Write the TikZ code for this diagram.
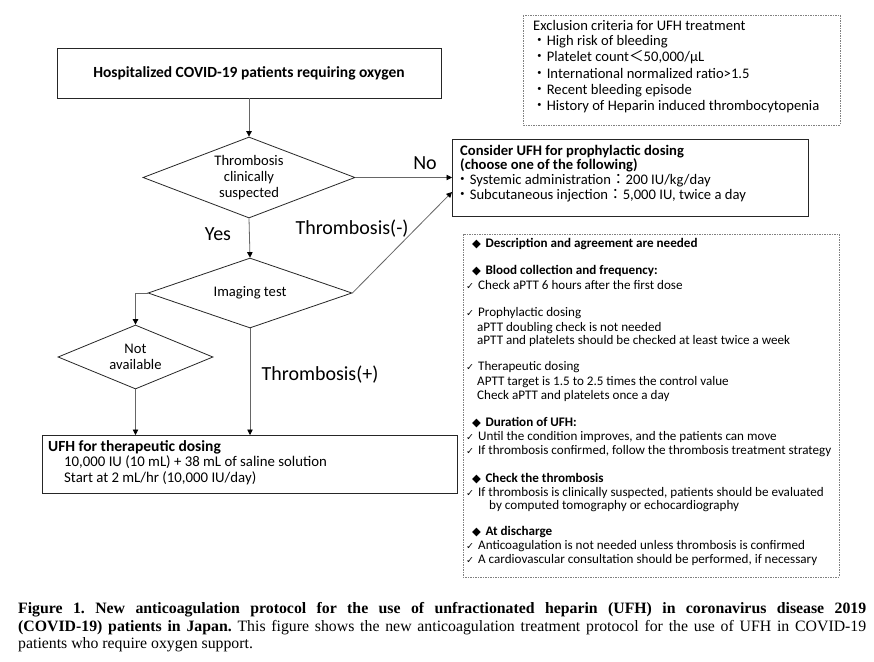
\documentclass[tikz,border=0pt]{standalone}
\usepackage{fontspec}
\setmainfont{Carlito}
\newfontfamily\capfont{Liberation Serif}
\newfontfamily\symfont{DejaVu Sans}
\newfontfamily\cjkfont{Noto Sans CJK JP}
\usetikzlibrary{shapes.geometric,arrows.meta}
\newcommand{\jdot}{{\cjkfont ・}}
\newcommand{\chk}{{\symfont\fontsize{9.5}{10}\selectfont ✓}}
\newcommand{\dia}{{\symfont\fontsize{11.5}{10}\selectfont ◆}}
\frenchspacing
\begin{document}
\begin{tikzpicture}[x=1pt,y=-1pt,
  box/.style={draw=black!85, line width=0.8pt},
  dbox/.style={draw=gray, line width=0.7pt, dash pattern=on 2pt off 1.2pt on 0.6pt off 1.2pt},
  dec/.style={draw=black!85, line width=0.8pt, shape=diamond, inner sep=0pt, align=center, font=\fontsize{14.6}{16}\selectfont},
  conn/.style={draw=gray!80!black, line width=0.8pt, -{Triangle[length=5.5pt,width=5.5pt,color=black]}},
  ln/.style={anchor=mid west, inner sep=0pt, text height=9pt, text depth=2.5pt},
  t12/.style={ln, font=\fontsize{14.6}{16}\selectfont},
  tpro/.style={ln, font=\fontsize{14.6}{16}\selectfont},
  tbold/.style={ln, font=\bfseries\fontsize{14.6}{16}\selectfont},
  t11/.style={ln, font=\fontsize{13.1}{14}\selectfont, text height=8.5pt, text depth=2.5pt},
  lab/.style={inner sep=0pt, font=\fontsize{20}{22}\selectfont},
  captext/.style={anchor=mid west, inner sep=0pt, font=\capfont\fontsize{15.8}{17}\selectfont}]
\useasboundingbox (0,0) rectangle (874,661);
\fill[white] (0,0) rectangle (874,661);

% top box
\node[box, minimum width=384pt, minimum height=50pt, font=\bfseries\fontsize{15.5}{17}\selectfont] (start) at (249,73) {Hospitalized COVID-19 patients requiring oxygen};

% diamonds
\node[dec, aspect=2.6, minimum width=212pt, minimum height=81pt] (d1) at (249,177.5) {Thrombosis\\clinically\\suspected};
\node[dec, aspect=2.9, minimum width=204pt, minimum height=70pt] (d2) at (250,293) {Imaging test};
\node[dec, aspect=2.4, minimum width=155pt, minimum height=64pt] (d3) at (135.5,357) {Not\\available};

% prophylactic box
\draw[box] (452,139) rectangle (808,216);
\coordinate (pro) at (452,177.5);
\coordinate (prolo) at (452,192);
\node[tbold] (p1) at (460,153) {Consider UFH for prophylactic dosing};
\node[tbold] (p2) at (460,167) {(choose one of the following)};
\node[tpro] (p3) at (455,182.5) {\jdot Systemic administration{\cjkfont ：}200 IU/kg/day};
\node[tpro] (p4) at (455,197.5) {\jdot Subcutaneous injection{\cjkfont ：}5,000 IU, twice a day};

% therapeutic box
\draw[box] (42,435) rectangle (457,493);
\coordinate (thl) at (135.5,435);
\coordinate (thr) at (250,435);
\node[tbold, font=\bfseries\fontsize{15.5}{17}\selectfont] (u1) at (48,449) {UFH for therapeutic dosing};
\node[tpro, font=\fontsize{14.8}{16}\selectfont] (u2) at (64,464.5) {10,000 IU (10 mL) + 38 mL of saline solution};
\node[tpro, font=\fontsize{14.8}{16}\selectfont] (u3) at (64,480) {Start at 2 mL/hr (10,000 IU/day)};

% connectors
\draw[conn] (start.south) -- (d1.north);
\draw[conn] (d1.east) -- (pro);
\draw[conn] (d1.south) -- (d2.north);
\draw[conn] (d2.east) -- (prolo);
\draw[conn] (d2.west) -| (d3.north);
\draw[conn] (d3.south) -- (thl);
\draw[conn] (d2.south) -- (thr);

% labels
\node[lab] (no) at (425,163) {No};
\node[lab] (yes) at (218,234) {Yes};
\node[lab] (tm) at (352,229) {Thrombosis(-)};
\node[lab] (tp) at (320,375) {Thrombosis(+)};

% exclusion box
\draw[dbox] (523,15) rectangle (840,125);
\node[t12] (e1) at (533,28) {Exclusion criteria for UFH treatment};
\node[t12] (e2) at (532,43.5) {\jdot High risk of bleeding};
\node[t12] (e3) at (532,59.5) {\jdot Platelet count{\cjkfont ＜}50,000/μL};
\node[t12] (e4) at (532,76) {\jdot International normalized ratio>1.5};
\node[t12] (e5) at (532,92) {\jdot Recent bleeding episode};
\node[t12] (e6) at (532,108) {\jdot History of Heparin induced thrombocytopenia};

% description box
\draw[dbox] (463,234) rectangle (839,577);
\node[t11] (s1) at (472,245) {\dia\hspace{4.5pt}\textbf{Description and agreement are needed}};
\node[t11] (s2) at (472,272) {\dia\hspace{4.5pt}\textbf{Blood collection and frequency:}};
\node[t11] (s3) at (466,287) {\chk\hspace{4pt}Check aPTT 6 hours after the first dose};
\node[t11] (s4) at (466,314) {\chk\hspace{4pt}Prophylactic dosing};
\node[t11] (s5) at (477,329) {aPTT doubling check is not needed};
\node[t11] (s6) at (477,342) {aPTT and platelets should be checked at least twice a week};
\node[t11] (s7) at (466,368) {\chk\hspace{4pt}Therapeutic dosing};
\node[t11] (s8) at (477,383) {APTT target is 1.5 to 2.5 times the control value};
\node[t11] (s9) at (477,397) {Check aPTT and platelets once a day};
\node[t11] (s10) at (472,424) {\dia\hspace{4.5pt}\textbf{Duration of UFH:}};
\node[t11] (s11) at (466,438) {\chk\hspace{4pt}Until the condition improves, and the patients can move};
\node[t11] (s12) at (466,452) {\chk\hspace{4pt}If thrombosis confirmed, follow the thrombosis treatment strategy};
\node[t11] (s13) at (472,480) {\dia\hspace{4.5pt}\textbf{Check the thrombosis}};
\node[t11] (s14) at (466,494) {\chk\hspace{4pt}If thrombosis is clinically suspected, patients should be evaluated};
\node[t11] (s15) at (489,507) {by computed tomography or echocardiography};
\node[t11] (s16) at (472,533) {\dia\hspace{4.5pt}\textbf{At discharge}};
\node[t11] (s17) at (466,547) {\chk\hspace{4pt}Anticoagulation is not needed unless thrombosis is confirmed};
\node[t11] (s18) at (466,561) {\chk\hspace{4pt}A cardiovascular consultation should be performed, if necessary};

% caption
\node[captext] (c1) at (18,611) {\makebox[848pt][s]{\bfseries Figure 1. New anticoagulation protocol for the use of unfractionated heparin (UFH) in coronavirus disease 2019}};
\node[captext] (c2) at (18,629) {\makebox[848pt][s]{\bfseries (COVID-19) patients in Japan.\mdseries{} This figure shows the new anticoagulation treatment protocol for the use of UFH in COVID-19}};
\node[captext] (c3) at (18,646) {patients who require oxygen support.};
\end{tikzpicture}
\end{document}
